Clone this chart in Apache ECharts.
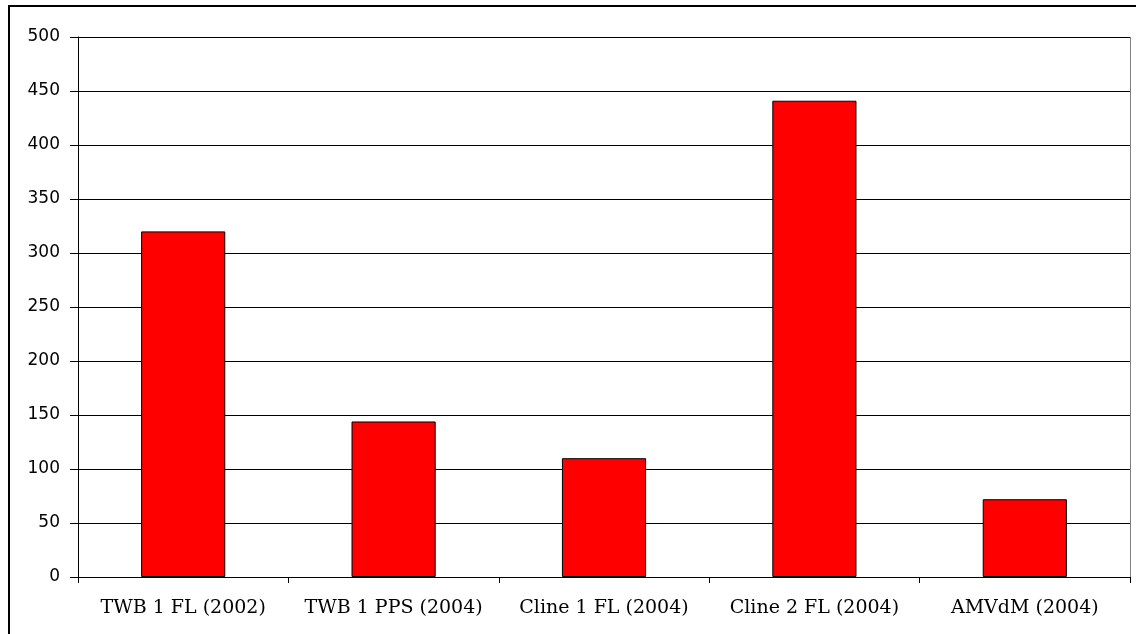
<!DOCTYPE html>
<html>
<head>
<meta charset="utf-8">
<script src="https://cdn.jsdelivr.net/npm/echarts@6/dist/echarts.min.js"></script>
<style>
  html, body { margin: 0; padding: 0; background: #fff; }
  #chart { width: 1136px; height: 634px; }
</style>
</head>
<body>
<div id="chart"></div>
<script>
// categories and values
const categories = ['TWB 1 FL (2002)', 'TWB 1 PPS (2004)', 'Cline 1 FL (2004)', 'Cline 2 FL (2004)', 'AMVdM (2004)']
const values = [320, 144, 110, 441, 72]

const chart = echarts.init(document.getElementById('chart'))

chart.setOption({
  backgroundColor: '#fff',
  animation: false,
  graphic: [
    // outer chart frame (right/bottom edges fall outside the picture)
    {
      type: 'polyline', z: -1,
      shape: { points: [[9, 640], [9, 6], [1140, 6]] },
      style: { fill: 'none', stroke: '#000', lineWidth: 2 }
    },
    // right edge of plot area
    {
      type: 'line', z: 0,
      shape: { x1: 1130.5, y1: 37, x2: 1130.5, y2: 577 },
      style: { stroke: '#808080', lineWidth: 1 }
    }
  ],
  grid: { left: 78, top: 37, width: 1052, height: 540 },
  xAxis: {
    type: 'category',
    data: categories,
    axisLine: { lineStyle: { color: '#000', width: 1 } },
    axisTick: { show: true, interval: 0, length: 6, lineStyle: { color: '#000' } },
    axisLabel: {
      interval: 0,
      hideOverlap: false,
      margin: 22,
      fontFamily: 'DejaVu Serif, serif',
      fontSize: 19,
      color: '#000'
    }
  },
  yAxis: {
    type: 'value',
    min: 0, max: 500, interval: 50,
    axisLine: { show: true, lineStyle: { color: '#000', width: 1 } },
    axisTick: { show: true, length: 8, lineStyle: { color: '#000' } },
    axisLabel: {
      margin: 18,
      fontFamily: 'DejaVu Sans, sans-serif',
      fontSize: 17,
      color: '#000'
    },
    splitLine: { lineStyle: { color: '#000', width: 1 } }
  },
  series: [{
    type: 'bar',
    data: values,
    barWidth: '40%',
    itemStyle: { color: '#ff0000', borderColor: '#000', borderWidth: 1 }
  }]
})
</script>
</body>
</html>
